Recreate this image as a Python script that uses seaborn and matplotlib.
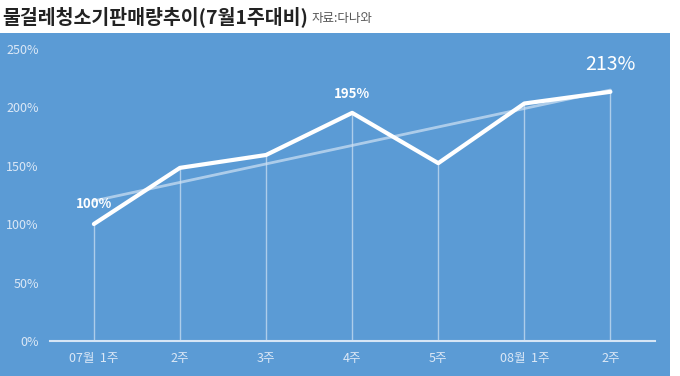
import numpy as np
import pandas as pd
import matplotlib
matplotlib.use("Agg")
import matplotlib.pyplot as plt
import seaborn as sns

# data
weeks = ["07월  1주", "2주", "3주", "4주", "5주", "08월  1주", "2주"]
sales_pct = [100, 148, 159, 195, 152, 203, 213]
yticks = [0, 50, 100, 150, 200, 250]

df = pd.DataFrame({"pos": range(len(weeks)), "week": weeks, "pct": sales_pct})

sns.set_style("white")
plt.rcParams['font.family'] = ['Noto Sans CJK KR', 'DejaVu Sans']

panel_blue = "#5b9bd5"
label_col = "#dce8f6"

fig = plt.figure(figsize=(6.8, 3.76), dpi=100)
fig.patch.set_facecolor("white")
# blue panel behind the chart
fig.patches.append(plt.Rectangle((0, 0), 0.985, 0.912, transform=fig.transFigure,
                                 facecolor=panel_blue, edgecolor="none", zorder=-5))

ax = fig.add_axes([0.0735, 0.093, 0.89, 0.778])
ax.set_facecolor("none")

# drop lines from each point
ax.vlines(df["pos"], 0, df["pct"], color="white", alpha=0.5, lw=1)

# linear trend line
coef = np.polyfit(df["pos"], df["pct"], 1)
ax.plot(df["pos"], np.polyval(coef, df["pos"]), color="#d0e2f4", lw=2, alpha=0.7,
        solid_capstyle="round")

sns.lineplot(data=df, x="pos", y="pct", ax=ax, color="white", lw=3)

ax.set_xlim(-0.51, 6.52)
ax.set_ylim(0, 250)
ax.set_yticks(yticks)
ax.set_yticklabels([f"{t}%" for t in yticks], color=label_col, fontsize=9)
ax.set_xticks(df["pos"])
ax.set_xticklabels(weeks, color=label_col, fontsize=9)
ax.tick_params(length=0, pad=8)
ax.set_xlabel("")
ax.set_ylabel("")
for s in ["top", "right", "left"]:
    ax.spines[s].set_visible(False)
ax.spines["bottom"].set_color("#d6e5f5")
ax.spines["bottom"].set_linewidth(1.5)

# value labels
ax.text(0, 111, "100%", color="white", fontsize=9.5, fontweight="bold", ha="center", va="bottom")
ax.text(3, 205, "195%", color="white", fontsize=9.5, fontweight="bold", ha="center", va="bottom")
ax.text(6, 227, "213%", color="white", fontsize=14, ha="center", va="bottom")

# title
fig.text(0.003, 0.955, "물걸레청소기판매량추이(7월1주대비)", fontsize=14, fontweight="bold",
         color="#222222", va="center", ha="left")
fig.text(0.458, 0.951, "자료:다나와", fontsize=9, color="#555555", va="center", ha="left")

fig.savefig("out.png", dpi=100)
